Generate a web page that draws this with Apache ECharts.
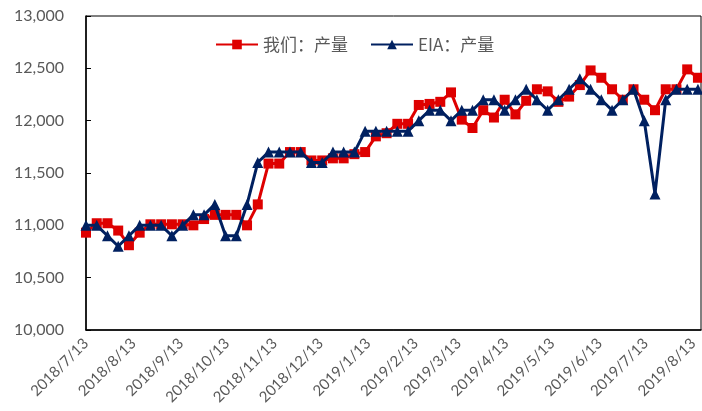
<!DOCTYPE html>
<html>
<head>
<meta charset="utf-8">
<script src="https://cdn.jsdelivr.net/npm/echarts@6/dist/echarts.min.js"></script>
<style>
html,body{margin:0;padding:0;background:#fff;}
#chart{width:702px;height:411px;}
</style>
</head>
<body>
<div id="chart"></div>
<script>
// Weekly dates (Fridays)
const dates = [
 '2018/7/13','2018/7/20','2018/7/27','2018/8/3','2018/8/10','2018/8/17','2018/8/24','2018/8/31',
 '2018/9/7','2018/9/14','2018/9/21','2018/9/28','2018/10/5','2018/10/12','2018/10/19','2018/10/26',
 '2018/11/2','2018/11/9','2018/11/16','2018/11/23','2018/11/30','2018/12/7','2018/12/14','2018/12/21',
 '2018/12/28','2019/1/4','2019/1/11','2019/1/18','2019/1/25','2019/2/1','2019/2/8','2019/2/15',
 '2019/2/22','2019/3/1','2019/3/8','2019/3/15','2019/3/22','2019/3/29','2019/4/5','2019/4/12',
 '2019/4/19','2019/4/26','2019/5/3','2019/5/10','2019/5/17','2019/5/24','2019/5/31','2019/6/7',
 '2019/6/14','2019/6/21','2019/6/28','2019/7/5','2019/7/12','2019/7/19','2019/7/26','2019/8/2',
 '2019/8/9','2019/8/16'
];
const ours = [
 10930,11020,11020,10950,10810,10930,11010,11010,11010,11010,
 11000,11060,11100,11100,11100,11000,11200,11590,11590,11700,
 11700,11620,11620,11640,11640,11680,11700,11850,11880,11970,
 11970,12150,12160,12180,12270,12010,11930,12100,12030,12200,
 12060,12190,12300,12280,12180,12230,12340,12480,12410,12300,
 12200,12300,12200,12100,12300,12300,12490,12410
];
const eia = [
 11000,11000,10900,10800,10900,11000,11000,11000,10900,11000,
 11100,11100,11200,10900,10900,11200,11600,11700,11700,11700,
 11700,11600,11600,11700,11700,11700,11900,11900,11900,11900,
 11900,12000,12100,12100,12000,12100,12100,12200,12200,12100,
 12200,12300,12200,12100,12200,12300,12400,12300,12200,12100,
 12200,12300,12000,11300,12200,12300,12300,12300
];
const tickLabels = [
 '2018/7/13','2018/8/13','2018/9/13','2018/10/13','2018/11/13','2018/12/13','2019/1/13',
 '2019/2/13','2019/3/13','2019/4/13','2019/5/13','2019/6/13','2019/7/13','2019/8/13'
];
const seriesNames = ['我们：产量','EIA：产量'];
const axisStart = '2018/7/13';
const axisEnd = '2019/8/18';

const DAY = 86400000;
function ts(s){ const p = s.split('/').map(Number); return Math.round(Date.UTC(p[0], p[1]-1, p[2]) / DAY); }

const tickVals = tickLabels.map(ts);
const labelMap = {};
tickLabels.forEach(function(l){ labelMap[ts(l)] = l; });

const chart = echarts.init(document.getElementById('chart'), null, {renderer:'canvas'});
const font = 'Lato, "Noto Sans CJK SC", sans-serif';
chart.setOption({
  animation: false,
  backgroundColor: '#fff',
  grid: { left: 86, right: 1, top: 16, bottom: 81, show: true, borderColor: '#000', borderWidth: 1, backgroundColor: 'transparent' },
  legend: {
    left: 210, top: 31,
    itemWidth: 42, itemHeight: 12, itemGap: 22,
    textStyle: { color: '#595959', fontSize: 17, fontFamily: '"Noto Sans CJK SC", sans-serif' },
    data: seriesNames
  },
  xAxis: {
    type: 'value',
    min: ts(axisStart), max: ts(axisEnd),
    axisLine: { show: true, lineStyle: { color: '#000', width: 1.5 } },
    axisTick: { show: false },
    splitLine: { show: false },
    axisLabel: {
      customValues: tickVals,
      rotate: 45,
      margin: 11,
      color: '#595959',
      fontSize: 15,
      fontFamily: font,
      formatter: function(v){ return labelMap[v] || ''; },
      hideOverlap: false
    }
  },
  yAxis: {
    type: 'value',
    min: 10000, max: 13000, interval: 500,
    axisLine: { show: true, lineStyle: { color: '#000', width: 1.5 } },
    axisTick: { show: true, inside: true, length: 5, lineStyle: { color: '#000' } },
    splitLine: { show: false },
    axisLabel: {
      color: '#595959', fontSize: 16, fontFamily: font, margin: 22,
      formatter: function(v){ return v.toLocaleString('en-US'); }
    }
  },
  series: [
    {
      name: seriesNames[0], type: 'line',
      data: dates.map(function(d,i){ return [ts(d), ours[i]]; }),
      symbol: 'rect', symbolSize: 10,
      lineStyle: { color: '#DE0000', width: 3 },
      itemStyle: { color: '#DE0000' },
      z: 2
    },
    {
      name: seriesNames[1], type: 'line',
      data: dates.map(function(d,i){ return [ts(d), eia[i]]; }),
      symbol: 'triangle', symbolSize: 11,
      lineStyle: { color: '#002060', width: 3 },
      itemStyle: { color: '#002060' },
      z: 3
    }
  ]
});
</script>
</body>
</html>
